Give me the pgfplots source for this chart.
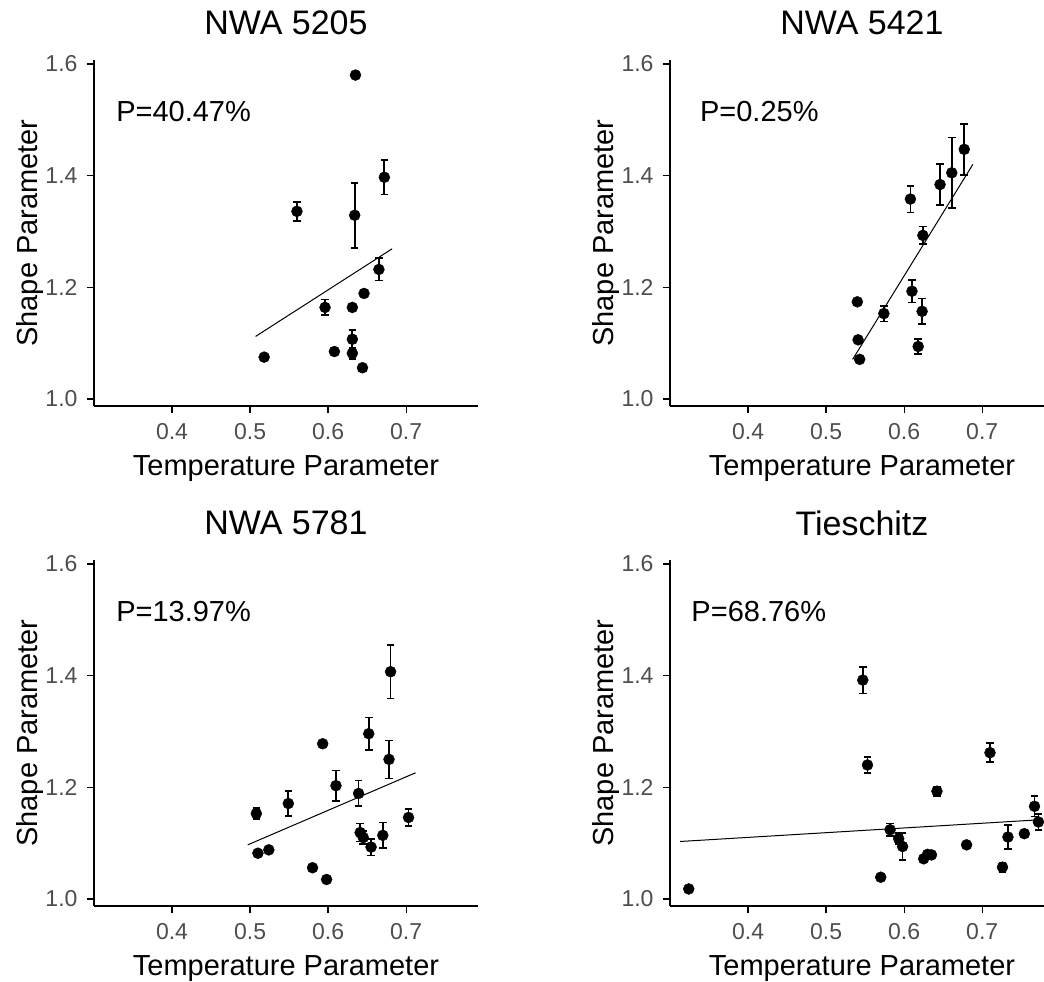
\documentclass[border=0pt]{standalone}
\usepackage{pgfplots}
\pgfplotsset{compat=1.18}
\usepackage{fontspec}
\setmainfont{Liberation Sans}
\definecolor{tickgray}{HTML}{4D4D4D}
\begin{document}
\begin{tikzpicture}[x=1pt,y=1pt]
\path[use as bounding box] (0,0) rectangle (1044,982);
\pgfplotsset{
  panel/.style={
    scale only axis, width=384pt, height=346pt,
    xmin=0.300, xmax=0.792, ymin=0.9875, ymax=1.607,
    axis lines*=left,
    axis line style={line width=1.3pt, black},
    xtick={0.4,0.5,0.6,0.7}, xticklabels={0.4,0.5,0.6,0.7},
    ytick={1.0,1.2,1.4,1.6}, yticklabels={1.0,1.2,1.4,1.6},
    tick align=outside, major tick length=7pt,
    tick style={line width=1.3pt, black},
    ticklabel style={font=\fontsize{23}{27}\selectfont, text=tickgray},
    xticklabel style={yshift=-7pt},
    yticklabel style={xshift=-6pt},
    xlabel={Temperature Parameter}, ylabel={Shape Parameter},
    xlabel style={font=\fontsize{29}{34}\selectfont, at={(axis description cs:0.5,0)}, anchor=base, yshift=-70pt},
    ylabel style={font=\fontsize{29}{34}\selectfont, at={(axis description cs:0,0.5)}, anchor=center, yshift=64pt},
    title style={font=\fontsize{34}{40}\selectfont, at={(axis description cs:0.5,1)}, anchor=center, yshift=31pt},
    anchor=south west, clip=false,
  },
  pts/.style={only marks, mark=*, mark size=5.5pt, black,
    error bars/.cd, y dir=both, y explicit, error mark=-,
    error mark options={rotate=90, black, mark size=3.8pt, line width=1.7pt},
    error bar style={line width=1.7pt, black}},
  fit/.style={no marks, black, line width=1pt},
}
% ---------- NWA 5205 ----------
\begin{axis}[panel, at={(94pt,576pt)}, title={NWA 5205}]
\addplot[pts] table[x=x, y=y, y error=e] {
x y e
0.518 1.075 0.006
0.560 1.336 0.017
0.596 1.164 0.014
0.608 1.085 0.006
0.631 1.164 0.004
0.631 1.107 0.017
0.631 1.082 0.010
0.634 1.329 0.058
0.635 1.580 0.004
0.644 1.056 0.006
0.646 1.189 0.005
0.665 1.232 0.020
0.672 1.397 0.031
};
\addplot[fit] coordinates {(0.507,1.112) (0.682,1.269)};
\node[anchor=west, font=\fontsize{29}{34}\selectfont] at (axis cs:0.324,1.515) {P=40.47\%};
\end{axis}
% ---------- NWA 5421 ----------
\begin{axis}[panel, at={(670pt,576pt)}, title={NWA 5421}]
\addplot[pts] table[x=x, y=y, y error=e] {
x y e
0.540 1.174 0.004
0.541 1.106 0.005
0.543 1.071 0.004
0.574 1.153 0.014
0.608 1.358 0.024
0.610 1.193 0.020
0.618 1.094 0.014
0.623 1.157 0.023
0.624 1.293 0.016
0.646 1.384 0.037
0.661 1.405 0.063
0.677 1.447 0.046
};
\addplot[fit] coordinates {(0.534,1.071) (0.688,1.420)};
\node[anchor=west, font=\fontsize{29}{34}\selectfont] at (axis cs:0.334,1.515) {P=0.25\%};
\end{axis}
% ---------- NWA 5781 ----------
\begin{axis}[panel, at={(94pt,76pt)}, title={NWA 5781}]
\addplot[pts] table[x=x, y=y, y error=e] {
x y e
0.508 1.153 0.010
0.510 1.082 0.004
0.524 1.088 0.005
0.549 1.171 0.022
0.580 1.056 0.004
0.593 1.278 0.004
0.598 1.035 0.004
0.610 1.203 0.027
0.639 1.189 0.023
0.641 1.119 0.016
0.645 1.110 0.012
0.652 1.296 0.029
0.655 1.093 0.015
0.670 1.114 0.023
0.678 1.250 0.034
0.680 1.407 0.048
0.703 1.146 0.015
};
\addplot[fit] coordinates {(0.497,1.097) (0.712,1.226)};
\node[anchor=west, font=\fontsize{29}{34}\selectfont] at (axis cs:0.324,1.515) {P=13.97\%};
\end{axis}
% ---------- Tieschitz ----------
\begin{axis}[panel, at={(670pt,76pt)}, title={Tieschitz}]
\addplot[pts] table[x=x, y=y, y error=e] {
x y e
0.324 1.018 0.004
0.547 1.392 0.024
0.553 1.240 0.014
0.570 1.039 0.004
0.582 1.124 0.011
0.593 1.108 0.010
0.598 1.094 0.024
0.625 1.072 0.004
0.630 1.080 0.005
0.635 1.079 0.005
0.642 1.193 0.008
0.680 1.097 0.006
0.710 1.262 0.017
0.726 1.057 0.008
0.733 1.111 0.022
0.754 1.117 0.006
0.767 1.166 0.018
0.772 1.138 0.014
};
\addplot[fit] coordinates {(0.313,1.103) (0.775,1.142)};
\node[anchor=west, font=\fontsize{29}{34}\selectfont] at (axis cs:0.323,1.515) {P=68.76\%};
\end{axis}
\end{tikzpicture}
\end{document}
